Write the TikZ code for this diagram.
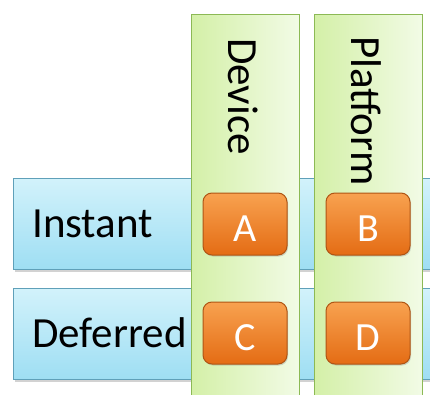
\documentclass[tikz,border=0pt]{standalone}
\usepackage{fontspec}
\setmainfont{Carlito}
\usetikzlibrary{shadows}
\definecolor{bluetop}{RGB}{210,242,251}
\definecolor{bluebot}{RGB}{158,222,243}
\definecolor{blueedge}{RGB}{95,160,185}
\definecolor{greenleft}{RGB}{212,240,168}
\definecolor{greenright}{RGB}{242,251,230}
\definecolor{greenedge}{RGB}{140,185,85}
\definecolor{orangetop}{RGB}{248,162,80}
\definecolor{orangebot}{RGB}{228,108,20}
\definecolor{orangeedge}{RGB}{175,85,20}
\begin{document}
\begin{tikzpicture}[x=1pt,y=-1pt,
  rowbox/.style={draw=blueedge, line width=1.2pt, top color=bluetop, bottom color=bluebot,
    minimum width=440pt, minimum height=91pt, anchor=north west, inner sep=0pt,
    drop shadow={shadow xshift=1.5pt, shadow yshift=-2pt, opacity=0.35}},
  colbox/.style={draw=greenedge, line width=1.2pt, left color=greenleft, right color=greenright,
    minimum width=108pt, minimum height=400pt, anchor=north west, inner sep=0pt},
  rowlabel/.style={font=\fontsize{43}{50}\selectfont, anchor=base west, inner sep=0pt, text=black},
  collabel/.style={font=\fontsize{43}{50}\selectfont, rotate=-90, anchor=base west, inner sep=0pt, text=black},
  cell/.style={draw=orangeedge, line width=1pt, top color=orangetop, bottom color=orangebot,
    rounded corners=9pt, minimum width=84pt, minimum height=62pt, inner sep=0pt,
    text=white, font=\fontsize{40}{46}\selectfont, text height=34pt, text depth=0pt,
    drop shadow={shadow xshift=1pt, shadow yshift=-1.5pt, opacity=0.3}}
]
\useasboundingbox (0,0) rectangle (430,395);
\clip (0,0) rectangle (430,395);
\fill[white] (0,0) rectangle (430,395);
% rows
\node[rowbox] (instant) at (13,178) {};
\node[rowbox] (deferred) at (13,288) {};
% columns
\node[colbox] (device) at (191,14) {};
\node[colbox] (platform) at (314,14) {};
% labels
\node[rowlabel] (instantlbl) at (32,237) {Instant};
\node[rowlabel] (deferredlbl) at (32,347) {Deferred};
\node[collabel] (devicelbl) at (228,38) {Device};
\node[collabel] (platformlbl) at (351,36) {Platform};
% cells
\node[cell] (A) at (245,224) {A};
\node[cell] (B) at (368,224) {B};
\node[cell] (C) at (245,333) {C};
\node[cell] (D) at (368,333) {D};
\end{tikzpicture}
\end{document}
